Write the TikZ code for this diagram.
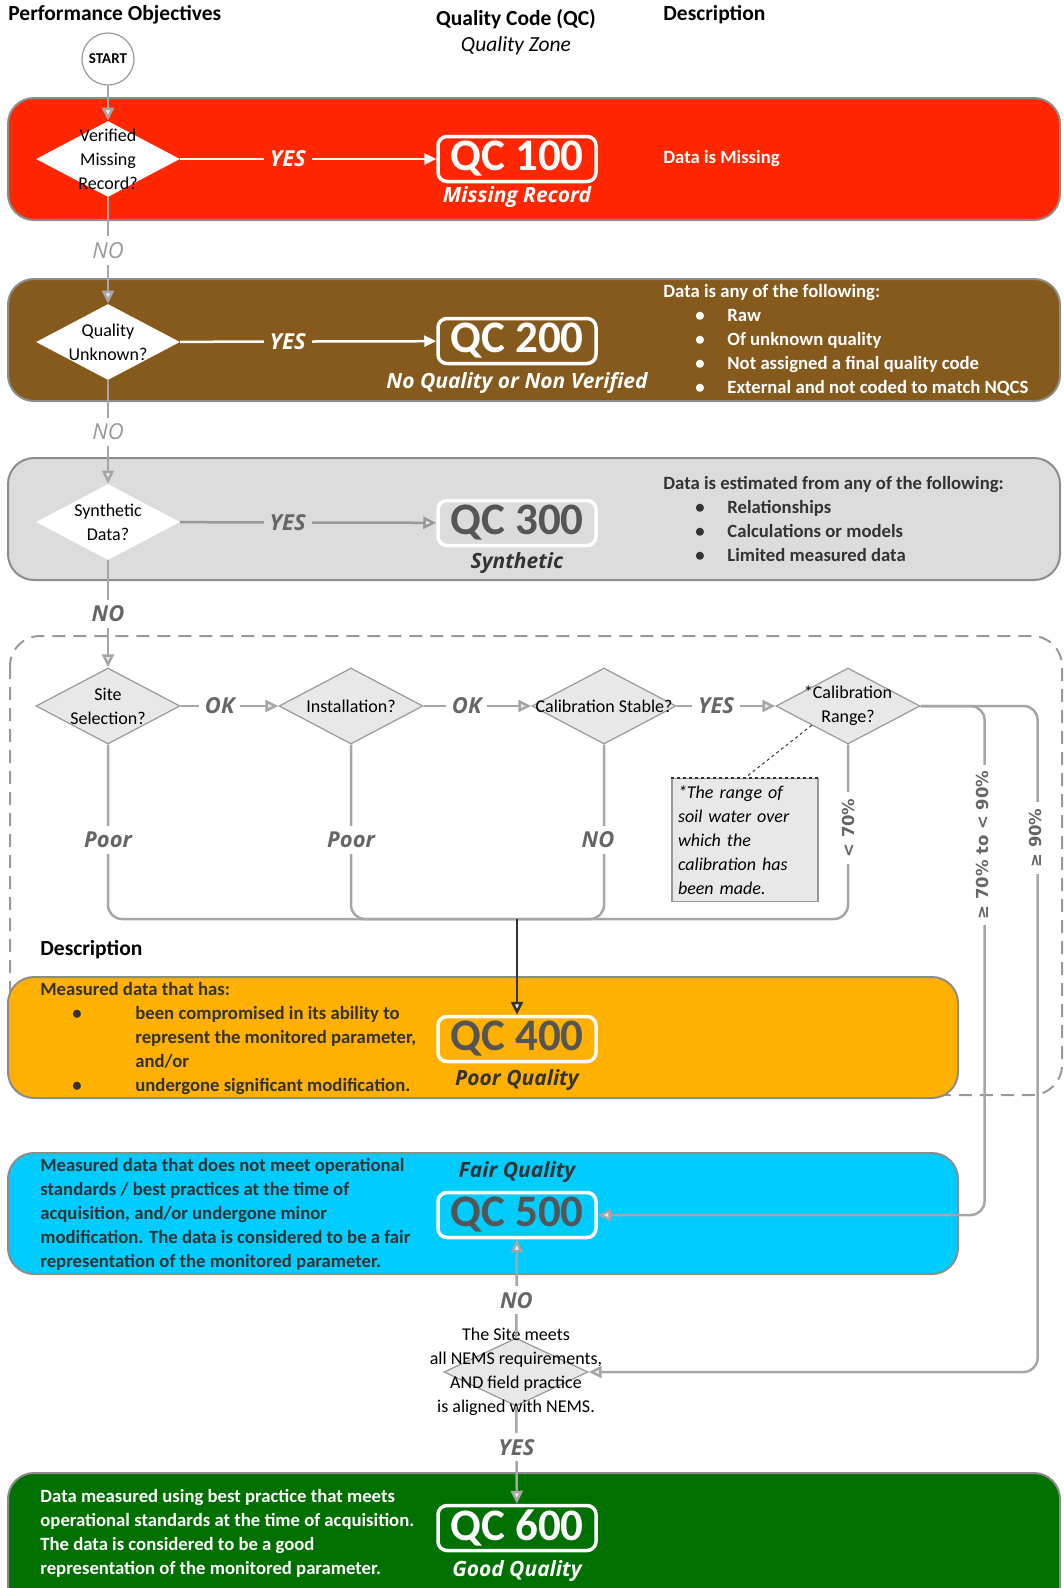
\documentclass[tikz,border=0pt]{standalone}
\usepackage{fontspec}
\setmainfont{Carlito}
\newfontfamily\qcfont{Open Sans}
\newfontfamily\symfont{DejaVu Sans}
\usepackage{xcolor}
\usetikzlibrary{calc, positioning, arrows.meta, shapes.geometric}

\definecolor{qcred}{HTML}{FF2600}
\definecolor{qcbrown}{HTML}{865A1D}
\definecolor{qcgrey}{HTML}{DCDCDC}
\definecolor{qcorange}{HTML}{FFB000}
\definecolor{qccyan}{HTML}{00CCFF}
\definecolor{qcgreen}{HTML}{007000}
\definecolor{bandedge}{HTML}{8C8C8C}
\definecolor{linegrey}{HTML}{A6A6A6}
\definecolor{labgrey}{HTML}{666666}
\definecolor{boxgrey}{HTML}{E8E8E8}
\definecolor{diagrey}{HTML}{999999}
\definecolor{darktext}{HTML}{333333}
\definecolor{qcdark}{HTML}{555555}

\newcommand{\bul}[2][64pt]{\makebox[#1][l]{\hspace{32pt}\textbullet}#2}

\begin{document}
\begin{tikzpicture}[x=1pt, y=-1pt, thick,
	band/.style={draw=bandedge, line width=2pt, rounded corners=26pt},
	ask/.style={diamond, fill=white, minimum width=144pt, minimum height=76pt, inner sep=0pt},
	check/.style={ask, fill=boxgrey, draw=diagrey, line width=1.2pt},
	dtext/.style={font=\fontsize{18}{24}\selectfont, align=center, text=black},
	qcbox/.style={draw=white, line width=3.5pt, rounded corners=9pt, minimum width=158pt, minimum height=45pt, inner sep=0pt, font=\bfseries\fontsize{45}{45}\selectfont},
	zone/.style={font=\qcfont\bfseries\itshape\fontsize{21}{22}\selectfont},
	lab/.style={font=\qcfont\bfseries\itshape\fontsize{22}{22}\selectfont, text=labgrey, fill=white, inner sep=6pt},
	pct/.style={font=\symfont\bfseries\fontsize{16.5}{16.5}\selectfont, text=labgrey, fill=white, rotate=90, inner sep=6pt},
	desc/.style={font=\bfseries\fontsize{18.7}{24}\selectfont, align=left, inner sep=0pt, anchor=west},
	head/.style={font=\bfseries\fontsize{21.5}{24}\selectfont, inner sep=0pt},
	wline/.style={draw=white, line width=2.5pt, -{Triangle[length=12pt, width=11pt]}},
	gline/.style={draw=linegrey, line width=2.5pt},
	garrow/.style={gline, -{Triangle[length=13pt, width=12pt, fill=boxgrey]}}]

	\useasboundingbox (0,0) rectangle (1064,1588);

	\node[head, anchor=west] (hperf) at (8,15) {Performance Objectives};
	\node[head] (hqc) at (516,19) {Quality Code (QC)};
	\node[font=\itshape\fontsize{21.5}{24}\selectfont] (hzone) at (516,46) {Quality Zone};
	\node[head, anchor=west] (hdesc) at (663,15) {Description};

	\draw[draw=diagrey, line width=2pt, dash pattern=on 13pt off 8pt, rounded corners=30pt] (10,636) rectangle (1062,1095);

	\draw[band, fill=qcred] (8,98) rectangle (1060,220);
	\draw[band, fill=qcbrown] (8,279) rectangle (1060,401);
	\draw[band, fill=qcgrey] (8,458) rectangle (1060,580);
	\draw[band, fill=qcorange] (8,977) rectangle (958,1098);
	\draw[band, fill=qccyan] (8,1153) rectangle (958,1274);
	\draw[band, fill=qcgreen] (8,1473) rectangle (1060,1640);

	\node[circle, draw=diagrey, fill=white, line width=1.2pt, minimum size=52pt, inner sep=0pt, font=\bfseries\fontsize{15}{15}\selectfont] (start) at (108,59) {START};

	\node[ask, label={[dtext]center:{Verified\\Missing\\Record?}}] (d1) at (108,159) {};
	\node[ask, label={[dtext]center:{Quality\\Unknown?}}] (d2) at (108,342) {};
	\node[ask, label={[dtext]center:{Synthetic\\Data?}}] (d3) at (108,522) {};
	\node[check, label={[dtext]center:{Site\\Selection?}}] (d4) at (108,706) {};
	\node[check, label={[dtext]center:{Installation?}}] (d5) at (351,706) {};
	\node[check, label={[dtext]center:{Calibration Stable?}}] (d6) at (604,706) {};
	\node[check, label={[dtext]center:{*Calibration\\Range?}}] (d7) at (848,706) {};
	\node[check, minimum height=68pt, label={[dtext]center:{The Site meets\\all NEMS requirements,\\AND field practice\\is aligned with NEMS.}}] (nems) at (516,1372) {};

	\node[qcbox, text=white] (qc1) at (517,159) {QC 100};
	\node[qcbox, text=white] (qc2) at (517,341) {QC 200};
	\node[qcbox, text=qcdark, fill=qcgrey] (qc3) at (517,523) {QC 300};
	\node[qcbox, text=qcdark] (qc4) at (517,1039) {QC 400};
	\node[qcbox, text=qcdark] (qc5) at (517,1215) {QC 500};
	\node[qcbox, text=white] (qc6) at (517,1528) {QC 600};

	\node[zone, text=white] (z1) at (517,197) {Missing Record};
	\node[zone, text=white] (z2) at (517,383) {No Quality or Non Verified};
	\node[zone, text=darktext] (z3) at (517,563) {Synthetic};
	\node[zone, text=darktext] (z4) at (517,1080) {Poor Quality};
	\node[zone, text=darktext] (z5) at (517,1172) {Fair Quality};
	\node[zone, text=white] (z6) at (517,1571) {Good Quality};

	\node[desc, text=white] (t1) at (663,159) {Data is Missing};
	\node[desc, text=white] (t2) at (663,340) {Data is any of the following:\\
		\bul{Raw}\\
		\bul{Of unknown quality}\\
		\bul{Not assigned a final quality code}\\
		\bul{External and not coded to match NQCS}};
	\node[desc, text=darktext] (t3) at (663,519) {Data is estimated from any of the following:\\
		\bul{Relationships}\\
		\bul{Calculations or models}\\
		\bul{Limited measured data}};
	\node[head, anchor=west] (hdesc2) at (40,950) {Description};
	\node[desc, text=darktext] (t4) at (40,1039) {Measured data that has:\\
		\bul[95pt]{been compromised in its ability to}\\
		\hspace*{95pt}represent the monitored parameter,\\
		\hspace*{95pt}and/or\\
		\bul[95pt]{undergone significant modification.}};
	\node[desc, text=darktext] (t5) at (40,1214) {Measured data that does not meet operational\\
		standards / best practices at the time of\\
		acquisition, and/or undergone minor\\
		modification. The data is considered to be a fair\\
		representation of the monitored parameter.};
	\node[desc, text=white] (t6) at (40,1533) {Data measured using best practice that meets\\
		operational standards at the time of acquisition.\\
		The data is considered to be a good\\
		representation of the monitored parameter.};

	\node[draw=diagrey, fill=boxgrey, line width=1.2pt, text width=134pt, minimum height=123pt, inner xsep=6pt, align=left, font=\itshape\fontsize{18}{24}\selectfont] (note) at (745,840) {*The range of\\soil water over\\which the\\calibration has\\been made.};
	\draw[dashed, line width=1pt, draw=darktext] (d7.south west) -- (note.north);
	\draw[dashed, line width=1.5pt, draw=darktext] (note.north west) -- (note.north east);

	\draw[garrow] (start) -- (d1);
	\draw[garrow] (d1) -- node[lab, font=\qcfont\itshape\fontsize{22}{22}\selectfont, text=diagrey] {NO} (d2);
	\draw[garrow] (d2) -- node[lab, font=\qcfont\itshape\fontsize{22}{22}\selectfont, text=diagrey] {NO} (d3);
	\draw[garrow] (d3) -- node[lab] {NO} (d4);

	\draw[wline] (d1) -- node[lab, pos=0.42, fill=qcred, text=white] {YES} (qc1);
	\draw[wline] (d2) -- node[lab, pos=0.42, fill=qcbrown, text=white] {YES} (qc2);
	\draw[garrow, draw=diagrey] (d3) -- node[lab, pos=0.42, fill=qcgrey, text=labgrey] {YES} (qc3);

	\draw[garrow] (d4) -- node[lab, pos=0.4] {OK} (d5);
	\draw[garrow] (d5) -- node[lab, pos=0.4] {OK} (d6);
	\draw[garrow] (d6) -- node[lab, pos=0.4] {YES} (d7);

	\coordinate (merge) at (517,919);
	\draw[gline, rounded corners=14pt] (d4) |- (merge);
	\draw[gline, rounded corners=14pt] (d5) |- (merge);
	\draw[gline, rounded corners=14pt] (d6) |- (merge);
	\draw[gline, rounded corners=14pt] (d7) |- (merge);
	\draw[garrow, draw=darktext] (merge) -- (qc4);

	\draw[garrow, rounded corners=14pt] (d7.east) -- ++(64,0) |- (qc5);
	\draw[garrow, rounded corners=14pt] (d7.east) -- ++(117,0) |- (nems);

	\node[lab] (poor1) at (108,840) {Poor};
	\node[lab] (poor2) at (351,840) {Poor};
	\node[lab] (nostable) at (598,840) {NO};
	\node[pct] (lt70) at (848,828) {< 70\%};
	\node[pct] (mid70) at (982,845) {≥ 70\% to < 90\%};
	\node[pct] (ge90) at (1035,838) {≥ 90\%};

	\draw[garrow] (nems) -- node[lab, pos=0.38] {NO} (qc5);
	\draw[garrow] (nems) -- node[lab, pos=0.42] {YES} (qc6);

\end{tikzpicture}
\end{document}
